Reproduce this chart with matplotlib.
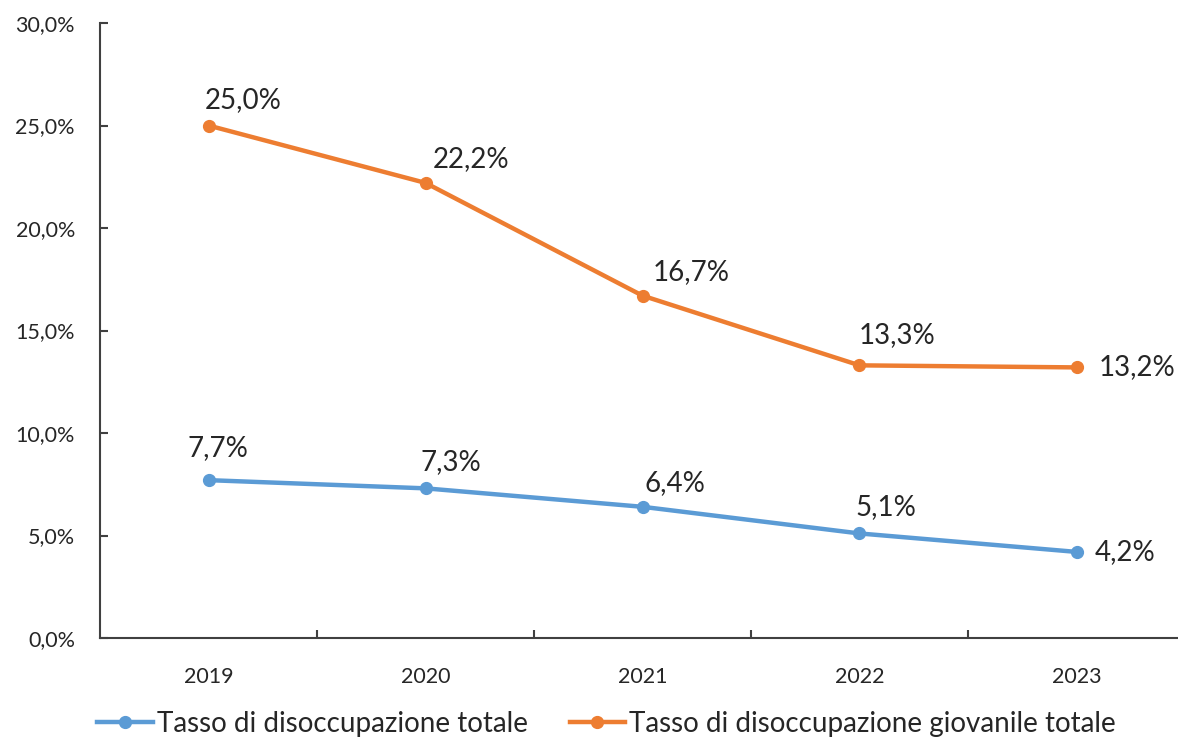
import matplotlib
matplotlib.use('Agg')
import matplotlib.pyplot as plt
from matplotlib.ticker import FuncFormatter, FixedLocator

plt.rcParams['font.family'] = ['Lato', 'DejaVu Sans']

# Data
years = ['2019', '2020', '2021', '2022', '2023']
totale = [7.7, 7.3, 6.4, 5.1, 4.2]
giovanile = [25.0, 22.2, 16.7, 13.3, 13.2]
label_totale = 'Tasso di disoccupazione totale'
label_giovanile = 'Tasso di disoccupazione giovanile totale'

blue = '#5B9BD5'
orange = '#ED7D31'
axis_col = '#404040'
text_col = '#262626'

fig = plt.figure(figsize=(11.78, 7.42), dpi=100)
ax = fig.add_axes([100 / 1178, 104 / 742, 1085 / 1178, 615 / 742])

x = range(len(years))
ax.plot(x, totale, color=blue, lw=3.2, marker='o', ms=8.5, label=label_totale)
ax.plot(x, giovanile, color=orange, lw=3.2, marker='o', ms=8.5, label=label_giovanile)

def pct(v):
    return f'{v:.1f}%'.replace('.', ',')

# label offsets in points (dx, dy); last point labelled to the right
off_giov = [(25, 18), (33, 17), (35, 17), (27, 22)]
off_tot = [(7, 23), (18, 19), (23, 17), (19, 19)]
for i, (v, o) in enumerate(zip(giovanile, off_giov + [None])):
    if o is None:
        ax.annotate(pct(v), (i, v), xytext=(16, 0), textcoords='offset points',
                    ha='left', va='center', fontsize=20, color=text_col)
    else:
        ax.annotate(pct(v), (i, v), xytext=o, textcoords='offset points',
                    ha='center', va='center', fontsize=20, color=text_col)
for i, (v, o) in enumerate(zip(totale, off_tot + [None])):
    if o is None:
        ax.annotate(pct(v), (i, v), xytext=(13, 0), textcoords='offset points',
                    ha='left', va='center', fontsize=20, color=text_col)
    else:
        ax.annotate(pct(v), (i, v), xytext=o, textcoords='offset points',
                    ha='center', va='center', fontsize=20, color=text_col)

ax.set_xlim(-0.5, len(years) - 0.5)
ax.set_ylim(0, 30)
ax.set_yticks([0, 5, 10, 15, 20, 25, 30])
ax.yaxis.set_major_formatter(FuncFormatter(lambda v, p: pct(v)))
ax.set_xticks(list(x))
ax.set_xticklabels(years)
ax.xaxis.set_minor_locator(FixedLocator([i + 0.5 for i in range(len(years) - 1)]))

for s in ['top', 'right']:
    ax.spines[s].set_visible(False)
for s in ['left', 'bottom']:
    ax.spines[s].set_color(axis_col)
    ax.spines[s].set_linewidth(1.5)

ax.tick_params(axis='y', direction='in', length=6, width=1.5, color=axis_col,
               labelsize=15.5, labelcolor=text_col, pad=18)
ax.tick_params(axis='x', which='major', length=0, labelsize=15.5, labelcolor=text_col, pad=21)
ax.tick_params(axis='x', which='minor', direction='in', length=6, width=1.5, color=axis_col)

fig.legend(loc='center', bbox_to_anchor=(0.515, 0.024), ncol=2, frameon=False,
           fontsize=20, handlelength=2.0, handletextpad=0.15, columnspacing=1.5,
           labelcolor=text_col)

fig.savefig('out.png', dpi=100)
